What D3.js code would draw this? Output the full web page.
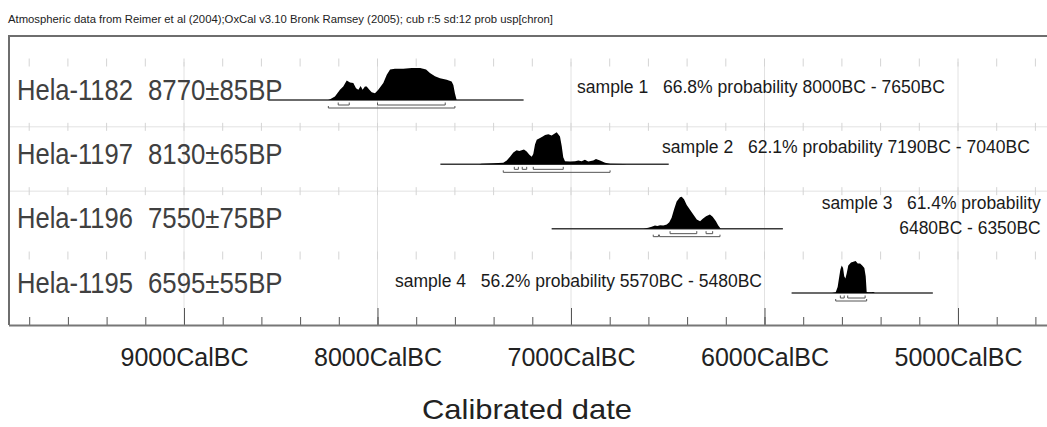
<!DOCTYPE html>
<html><head><meta charset="utf-8">
<script src="https://cdn.jsdelivr.net/npm/d3@7"></script>
<style>body{margin:0;background:#fff} svg{display:block}</style>
</head><body>
<svg id="chart" width="1047" height="427"></svg>
<script>
// ---------------- data ----------------
const titleText = "Atmospheric data from Reimer et al (2004);OxCal v3.10 Bronk Ramsey (2005); cub r:5 sd:12 prob usp[chron]";
const sampleIds = ["Hela-1182", "Hela-1197", "Hela-1196", "Hela-1195"];
const bpDates = ["8770\u00B185BP", "8130\u00B165BP", "7550\u00B175BP", "6595\u00B155BP"];
const annotationLines = [
  ["sample 1   66.8% probability 8000BC - 7650BC"],
  ["sample 2   62.1% probability 7190BC - 7040BC"],
  ["sample 3   61.4% probability", "6480BC - 6350BC"],
  ["sample 4   56.2% probability 5570BC - 5480BC"]
];
const axisYears = [9000, 8000, 7000, 6000, 5000];          // BC
const axisLabels = ["9000CalBC", "8000CalBC", "7000CalBC", "6000CalBC", "5000CalBC"];
const axisTitle = "Calibrated date";
// baseline span of each distribution, years BC
const lineSpans = [[8565, 7245], [7675, 6495], [7100, 5905], [5860, 5130]];
// probability distributions: [year BC, relative probability]
const density1 = [[8255,0],[8245,0.02],[8220,0.11],[8194,0.32],[8177,0.42],[8159,0.61],[8142,0.55],[8125,0.53],[8111,0.37],[8099,0.32],[8087,0.44],[8077,0.32],[8065,0.42],[8056,0.42],[8042,0.32],[8030,0.24],[8013,0.21],[7996,0.32],[7970,0.53],[7952,0.79],[7935,0.95],[7910,0.98],[7867,0.98],[7823,1],[7780,1],[7749,0.95],[7729,0.84],[7703,0.74],[7677,0.68],[7642,0.63],[7617,0.58],[7608,0.47],[7600,0.21],[7591,0]];
const density2 = [[7475,0],[7462,0.02],[7401,0.03],[7350,0.05],[7332,0.12],[7315,0.24],[7298,0.37],[7281,0.44],[7267,0.42],[7255,0.44],[7243,0.46],[7229,0.40],[7215,0.30],[7203,0.24],[7195,0.32],[7186,0.62],[7177,0.77],[7160,0.82],[7146,0.87],[7134,0.92],[7117,0.94],[7100,0.90],[7088,0.95],[7074,1],[7066,0.94],[7057,0.87],[7048,0.57],[7040,0.22],[7031,0.10],[7005,0.09],[6979,0.10],[6962,0.12],[6945,0.10],[6928,0.14],[6911,0.09],[6885,0.12],[6871,0.17],[6850,0.12],[6824,0.05],[6798,0.02],[6730,0.01],[6712,0]];
const density3 = [[6626,0],[6601,0.03],[6583,0.06],[6566,0.10],[6554,0.08],[6540,0.11],[6523,0.10],[6505,0.13],[6492,0.20],[6480,0.34],[6468,0.59],[6454,0.85],[6437,0.98],[6428,1],[6416,0.92],[6402,0.74],[6385,0.59],[6368,0.44],[6350,0.29],[6333,0.23],[6319,0.31],[6302,0.39],[6282,0.44],[6268,0.37],[6251,0.23],[6239,0.10],[6226,0]];
const density4 = [[5651,0],[5632,0.02],[5622,0.19],[5615,0.46],[5608,0.73],[5601,0.86],[5594,0.78],[5588,0.52],[5582,0.45],[5575,0.62],[5567,0.86],[5553,0.95],[5541,0.98],[5529,1],[5518,0.92],[5506,0.92],[5495,0.86],[5484,0.78],[5477,0.52],[5472,0.03],[5464,0.02],[5446,0.02],[5438,0.03],[5429,0]];
const densities = [density1, density2, density3, density4];
// 68.2% and 95.4% ranges, years BC
const ranges68 = [
  [[8203, 8146], [8000, 7650]],
  [[7293, 7272], [7252, 7229], [7195, 7040]],
  [[6488, 6350], [6302, 6268]],
  [[5608, 5588], [5570, 5480]]
];
const ranges95 = [
  [[8254, 7600]],
  [[7350, 6798]],
  [[6575, 6548], [6543, 6230]],
  [[5632, 5472]]
];

// ---------------- layout ----------------
const W = 1047, H = 427;
const plotLeft = 9, plotRight = 1047, plotTop = 36, axisY = 325;
const FONT = "'Liberation Sans', Arial, sans-serif";

const svg = d3.select("#chart");
const x = d3.scaleLinear().domain([-9000, -5000]).range([184, 958]);
const y = d3.scalePoint().domain(sampleIds).range([100, 293]);
const h = d3.scaleLinear().domain([0, 1]).range([0, 32]);
const rowTickYears = d3.range(9800, 4500, -200);

// title
svg.append("text").attr("x", 8).attr("y", 23)
  .attr("font-family", FONT).attr("font-size", 11).attr("fill", "#222")
  .attr("textLength", 545).attr("lengthAdjust", "spacingAndGlyphs")
  .text(titleText);

// vertical grid lines
svg.append("g").selectAll("line").data(axisYears).join("line")
  .attr("x1", d => x(-d)).attr("x2", d => x(-d))
  .attr("y1", 62).attr("y2", axisY)
  .attr("stroke", "#e2e2e2").attr("stroke-width", 1);

// horizontal row separators (rows 2 and 3)
svg.append("g").selectAll("line").data(sampleIds.slice(1, 3)).join("line")
  .attr("x1", plotLeft).attr("x2", plotRight)
  .attr("y1", d => y(d) - 37.5).attr("y2", d => y(d) - 37.5)
  .attr("stroke", "#e2e2e2").attr("stroke-width", 1);

// small row ticks
sampleIds.forEach(id => {
  svg.append("g").selectAll("line").data(rowTickYears).join("line")
    .attr("x1", d => x(-d)).attr("x2", d => x(-d))
    .attr("y1", y(id) - 41.5).attr("y2", y(id) - 33.5)
    .attr("stroke", "#d4d4d4").attr("stroke-width", 1);
});

// frame
svg.append("path")
  .attr("d", `M${plotRight + 5},${plotTop} H${plotLeft} V${axisY}`)
  .attr("fill", "none").attr("stroke", "#6e6e6e").attr("stroke-width", 2);

// axis
const gAxis = svg.append("g").attr("transform", `translate(0,${axisY})`);
gAxis.append("g")
  .call(d3.axisBottom(x).tickValues(rowTickYears.map(d => -d)).tickSize(-8).tickFormat(""))
  .call(g => g.select(".domain").remove())
  .call(g => g.selectAll("line").attr("stroke", "#555"));
gAxis.append("g")
  .call(d3.axisBottom(x).tickValues(axisYears.map(d => -d)).tickSize(-17)
    .tickFormat((d, i) => axisLabels[i]))
  .call(g => g.select(".domain").remove())
  .call(g => g.selectAll("line").attr("stroke", "#555"))
  .call(g => g.selectAll("text")
    .attr("y", 41).attr("dy", 0)
    .attr("font-family", FONT).attr("font-size", 25).attr("fill", "#222")
    .attr("textLength", 128).attr("lengthAdjust", "spacingAndGlyphs"));
gAxis.append("line").attr("x1", plotLeft).attr("x2", plotRight)
  .attr("y1", 0.5).attr("y2", 0.5).attr("stroke", "#777").attr("stroke-width", 2);

svg.append("text").attr("x", 527).attr("y", 419).attr("text-anchor", "middle")
  .attr("font-family", FONT).attr("font-size", 28).attr("fill", "#222")
  .attr("textLength", 210).attr("lengthAdjust", "spacingAndGlyphs")
  .text(axisTitle);

// row labels
const gLab = svg.append("g").attr("font-family", FONT).attr("font-size", 30).attr("fill", "#404040");
gLab.selectAll("text.id").data(sampleIds).join("text").attr("class", "id")
  .attr("x", 17).attr("y", d => y(d) - 0.5)
  .attr("textLength", 116).attr("lengthAdjust", "spacingAndGlyphs")
  .text(d => d);
gLab.selectAll("text.bp").data(bpDates).join("text").attr("class", "bp")
  .attr("x", 148).attr("y", (d, i) => y(sampleIds[i]) - 0.5)
  .attr("textLength", 134.5).attr("lengthAdjust", "spacingAndGlyphs")
  .text(d => d);

// distributions
const area = d3.area().x(d => x(-d[0])).y0(0).y1(d => -h(d[1]));
sampleIds.forEach((id, i) => {
  const g = svg.append("g").attr("transform", `translate(0,${y(id)})`);
  g.append("line")
    .attr("x1", x(-lineSpans[i][0])).attr("x2", x(-lineSpans[i][1]))
    .attr("y1", 0).attr("y2", 0).attr("stroke", "#3a3a3a").attr("stroke-width", 1.5);
  g.append("path").datum(densities[i]).attr("d", area).attr("fill", "#000");
  const bracket = (r, yy, up) => `M${x(-r[0])},${yy - up} V${yy} H${x(-r[1])} V${yy - up}`;
  g.selectAll("path.r68").data(ranges68[i]).join("path").attr("class", "r68")
    .attr("d", r => bracket(r, 5, 2.5)).attr("fill", "none").attr("stroke", "#555").attr("stroke-width", 1);
  g.selectAll("path.r95").data(ranges95[i]).join("path").attr("class", "r95")
    .attr("d", r => bracket(r, 8, 2)).attr("fill", "none").attr("stroke", "#555").attr("stroke-width", 1);
});

// annotations (layout positions)
const annLayout = [
  [{x: 577, y: 93, w: 368}],
  [{x: 662, y: 153, w: 368}],
  [{x: 821.7, y: 208.5, w: 219}, {x: 899.3, y: 233.5, w: 141.4}],
  [{x: 395, y: 287, w: 367}]
];
annotationLines.forEach((lines, i) => {
  lines.forEach((t, j) => {
    const L = annLayout[i][j];
    svg.append("text").attr("x", L.x).attr("y", L.y)
      .attr("font-family", FONT).attr("font-size", 17.5).attr("fill", "#1a1a1a")
      .style("white-space", "pre")
      .attr("textLength", L.w).attr("lengthAdjust", "spacingAndGlyphs")
      .text(t);
  });
});
</script>
</body></html>
